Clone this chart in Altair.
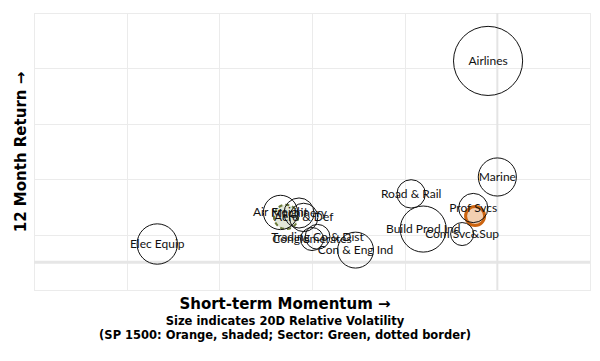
import altair as alt
import pandas as pd

# Industry bubbles
names = ["Airlines", "Marine", "Road & Rail", "Prof Svcs", "Build Prod Ind",
         "Com Svc&Sup", "Con & Eng Ind", "Elec Equip", "Air Freight",
         "Machinery", "Aero & Def", "Trading Co & Dist", "Conglomerates"]
momentum = [-0.10, 0.00, -0.93, -0.26, -0.80, -0.38, -1.53, -3.67, -2.34,
            -2.14, -2.09, -1.94, -2.00]
ret_12m = [7.27, 3.08, 2.47, 1.96, 1.20, 1.02, 0.44, 0.66, 1.80,
           1.78, 1.62, 0.92, 0.84]
rel_vol = [10.56, 3.21, 1.78, 1.89, 4.69, 1.17, 2.85, 3.6, 2.6,
           2.0, 1.78, 1.36, 1.17]

# Benchmarks
sp_momentum, sp_return, sp_vol = -0.24, 1.67, 0.80
sector_momentum, sector_return, sector_vol = -2.28, 1.64, 1.30

df = pd.DataFrame({"name": names, "mom": momentum, "ret": ret_12m, "vol": rel_vol})
bench = pd.DataFrame({
    "name": ["SP 1500", "Sector"],
    "mom": [sp_momentum, sector_momentum],
    "ret": [sp_return, sector_return],
    "vol": [sp_vol, sector_vol],
})

xs = alt.Scale(domain=[-5, 1], nice=False, zero=False)
ys = alt.Scale(domain=[-1, 9], nice=False, zero=False)
ss = alt.Scale(type="linear", domain=[0, 12], range=[0, 5429])

xax = alt.Axis(labels=False, ticks=False, domain=False, grid=True, values=list(range(-5, 2)),
               gridColor="#ebebeb", gridWidth=1, title=None)
yax = alt.Axis(labels=False, ticks=False, domain=False, grid=True, values=list(range(-1, 10)),
               gridColor="#ebebeb", gridWidth=1,
               title="12 Month Return \u2192", titleFont="DejaVu Sans", titleFontSize=15,
               titleFontWeight="bold", titleColor="#000", titlePadding=6)

base_x = alt.X("mom:Q", scale=xs, axis=xax)
base_y = alt.Y("ret:Q", scale=ys, axis=yax)

zero_h = alt.Chart(pd.DataFrame({"v": [0]})).mark_rule(color="#e6e6e6", strokeWidth=3).encode(
    y=alt.Y("v:Q", scale=ys))
zero_v = alt.Chart(pd.DataFrame({"v": [0]})).mark_rule(color="#e4e4e4", strokeWidth=2).encode(
    x=alt.X("v:Q", scale=xs))

sp = alt.Chart(bench.iloc[[0]]).mark_point(
    shape="circle", filled=True, fill="#f2cfb1", fillOpacity=1,
    stroke="#cc6410", strokeWidth=3, opacity=1
).encode(x=base_x, y=base_y, size=alt.Size("vol:Q", scale=ss, legend=None))

sector = alt.Chart(bench.iloc[[1]]).mark_point(
    shape="circle", filled=True, fill="#e3e8d8", fillOpacity=1,
    stroke="#6b7a3a", strokeWidth=2, strokeDash=[4, 3], opacity=1
).encode(x=base_x, y=base_y, size=alt.Size("vol:Q", scale=ss, legend=None))

bubbles = alt.Chart(df).mark_point(
    shape="circle", filled=False, stroke="#111111", strokeWidth=1, opacity=1
).encode(x=base_x, y=base_y, size=alt.Size("vol:Q", scale=ss, legend=None))

labels = alt.Chart(df).mark_text(font="Lato", fontSize=12, color="#111111",
                                 align="center", baseline="middle").encode(
    x=base_x, y=base_y, text="name:N")

chart = alt.layer(zero_h, zero_v, sp, sector, bubbles, labels).properties(
    width=556, height=277,
    padding={"left": 5, "top": 4, "right": 0, "bottom": 0},
    title=alt.Title(
        text="Short-term Momentum \u2192",
        subtitle=["Size indicates 20D Relative Volatility",
                  "(SP 1500: Orange, shaded; Sector: Green, dotted border)"],
        orient="bottom", anchor="middle", dx=-27, offset=6,
        font="DejaVu Sans", fontSize=15, fontWeight="bold", color="#000",
        subtitleFont="DejaVu Sans", subtitleFontSize=11.5, subtitleFontWeight="bold",
        subtitleColor="#000", subtitlePadding=4, subtitleLineHeight=14,
    ),
).configure_view(stroke="#e8e8e8", strokeWidth=1)

chart.save("out.html", embed_options={"renderer": "svg", "actions": False})
